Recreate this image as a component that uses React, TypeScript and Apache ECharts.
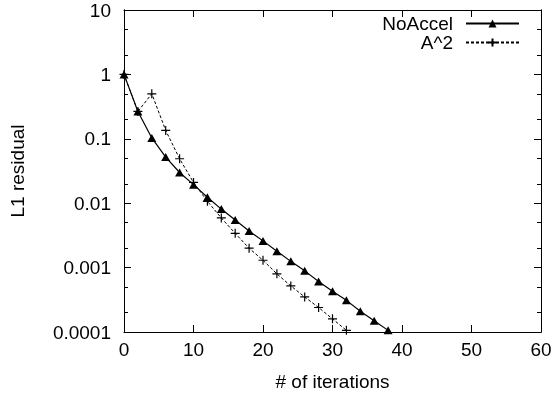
import React, { useEffect, useRef } from "react";
import * as echarts from "echarts";

const iterNoAccel = [0, 2, 4, 6, 8, 10, 12, 14, 16, 18, 20, 22, 24, 26, 28, 30, 32, 34, 36, 38];
const noAccel = [1, 0.266, 0.103, 0.052, 0.03, 0.0194, 0.0124, 0.0081, 0.0055, 0.0037, 0.0026, 0.0018, 0.00125, 0.00089, 0.00061, 0.00043, 0.00031, 0.00021, 0.00015, 0.000106];
const iterA2 = [0, 2, 4, 6, 8, 10, 12, 14, 16, 18, 20, 22, 24, 26, 28, 30, 32];
const a2 = [1, 0.266, 0.5, 0.135, 0.049, 0.021, 0.0107, 0.0059, 0.0034, 0.002, 0.0013, 0.0008, 0.00052, 0.00035, 0.00024, 0.00016, 0.000106];
const yTickLabels = ["0.0001", "0.001", "0.01", "0.1", "1", "10"];
const yMajorTicks = [0.0001, 0.001, 0.01, 0.1, 1, 10];
const yMinorTicks = [0.0002, 0.0005, 0.002, 0.005, 0.02, 0.05, 0.2, 0.5, 2, 5];
const seriesNames = ["NoAccel", "A^2"];

const FONT = "Liberation Sans, Arial, Helvetica, sans-serif";
const FS = 19;

export default function App() {
  const ref = useRef<HTMLDivElement>(null);
  useEffect(() => {
    if (!ref.current) return;
    const chart = echarts.init(ref.current, null, { renderer: "svg" });
    const yFmt = (v: number) => {
      const e = Math.round(Math.log10(v));
      return yTickLabels[e + 4] ?? "";
    };
    const axisLine = { show: true, lineStyle: { color: "#000", width: 1 } };
    const tick = { show: true, inside: true, length: 7, lineStyle: { color: "#000" } };
    const yBase = {
      type: "log",
      logBase: 10,
      min: 0.0001,
      max: 10,
      axisLine,
      splitLine: { show: false },
    };
    const majorY = { ...tick, customValues: yMajorTicks };
    const minorY = { ...tick, length: 4, customValues: yMinorTicks };
    chart.setOption({
      animation: false,
      textStyle: { fontFamily: FONT, color: "#000" },
      grid: { left: 120, right: 15, top: 10, bottom: 65 },
      legend: {
        orient: "vertical",
        align: "right",
        right: 31,
        top: 9,
        itemWidth: 53,
        itemHeight: 10,
        itemGap: 0,
        textStyle: { fontFamily: FONT, fontSize: FS, color: "#000", padding: [0, 8, 0, 0] },
        data: seriesNames,
      },
      xAxis: [
        {
          type: "value",
          min: 0,
          max: 60,
          interval: 10,
          name: "# of iterations",
          nameLocation: "middle",
          nameGap: 40,
          nameTextStyle: { fontFamily: FONT, fontSize: FS, color: "#000" },
          axisLine,
          axisTick: tick,
          axisLabel: { fontFamily: FONT, fontSize: FS, color: "#000", margin: 8 },
          splitLine: { show: false },
        },
        {
          type: "value",
          position: "top",
          min: 0,
          max: 60,
          interval: 10,
          axisLine,
          axisTick: tick,
          axisLabel: { show: false },
          splitLine: { show: false },
        },
      ],
      yAxis: [
        {
          ...yBase,
          position: "left",
          name: "L1 residual",
          nameLocation: "middle",
          nameGap: 97,
          nameRotate: 90,
          nameTextStyle: { fontFamily: FONT, fontSize: FS, color: "#000" },
          axisTick: majorY,
          axisLabel: { fontFamily: FONT, fontSize: FS, color: "#000", margin: 13, formatter: yFmt, customValues: yMajorTicks },
        },
        { ...yBase, position: "left", axisTick: minorY, axisLabel: { show: false } },
        { ...yBase, position: "right", axisTick: majorY, axisLabel: { show: false } },
        { ...yBase, position: "right", axisTick: minorY, axisLabel: { show: false } },
      ],
      series: [
        {
          name: seriesNames[0],
          type: "line",
          data: iterNoAccel.map((x, i) => [x, noAccel[i]]),
          symbol: "triangle",
          symbolSize: [9, 8],
          showAllSymbol: true,
          lineStyle: { color: "#000", width: 1.2, type: "solid" },
          itemStyle: { color: "#000" },
        },
        {
          name: seriesNames[1],
          type: "line",
          data: iterA2.map((x, i) => [x, a2[i]]),
          symbol: "path://M0,5L10,5M5,0L5,10",
          symbolSize: 9,
          showAllSymbol: true,
          lineStyle: { color: "#000", width: 1, type: [3, 2] },
          itemStyle: { color: "none", borderColor: "#000", borderWidth: 1.2 },
        },
      ],
    });
    return () => chart.dispose();
  }, []);
  return <div ref={ref} style={{ position: "fixed", left: 0, top: 0, width: 556, height: 397 }} />;
}
